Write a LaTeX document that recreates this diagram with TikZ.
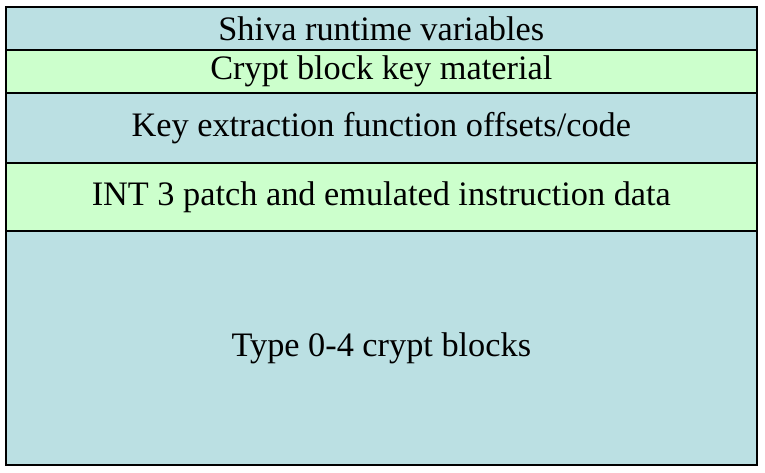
\documentclass[tikz,border=0pt]{standalone}
\usepackage{fontspec}
\setmainfont{Liberation Serif}
\definecolor{layerblue}{HTML}{BBE0E3}
\definecolor{layergreen}{HTML}{CCFFCC}
\begin{document}
\begin{tikzpicture}[x=1pt,y=-1pt,
  layer/.style={draw=black,line width=1.6pt,inner sep=0pt,anchor=north west,
    font=\fontsize{34.3}{38}\selectfont,text=black}]
\useasboundingbox (0,0) rectangle (765,473);
\node[layer,fill=layerblue,minimum width=751pt,minimum height=43pt] (vars) at (5,6) {Shiva runtime variables};
\node[layer,fill=layergreen,minimum width=751pt,minimum height=43pt] (keys) at (5,49) {Crypt block key material};
\node[layer,fill=layerblue,minimum width=751pt,minimum height=70pt] (extract) at (5,92) {Key extraction function offsets/code};
\node[layer,fill=layergreen,minimum width=751pt,minimum height=68pt] (patch) at (5,162) {INT 3 patch and emulated instruction data};
\node[layer,fill=layerblue,minimum width=751pt,minimum height=234pt] (blocks) at (5,230) {Type 0-4 crypt blocks};
\end{tikzpicture}
\end{document}
